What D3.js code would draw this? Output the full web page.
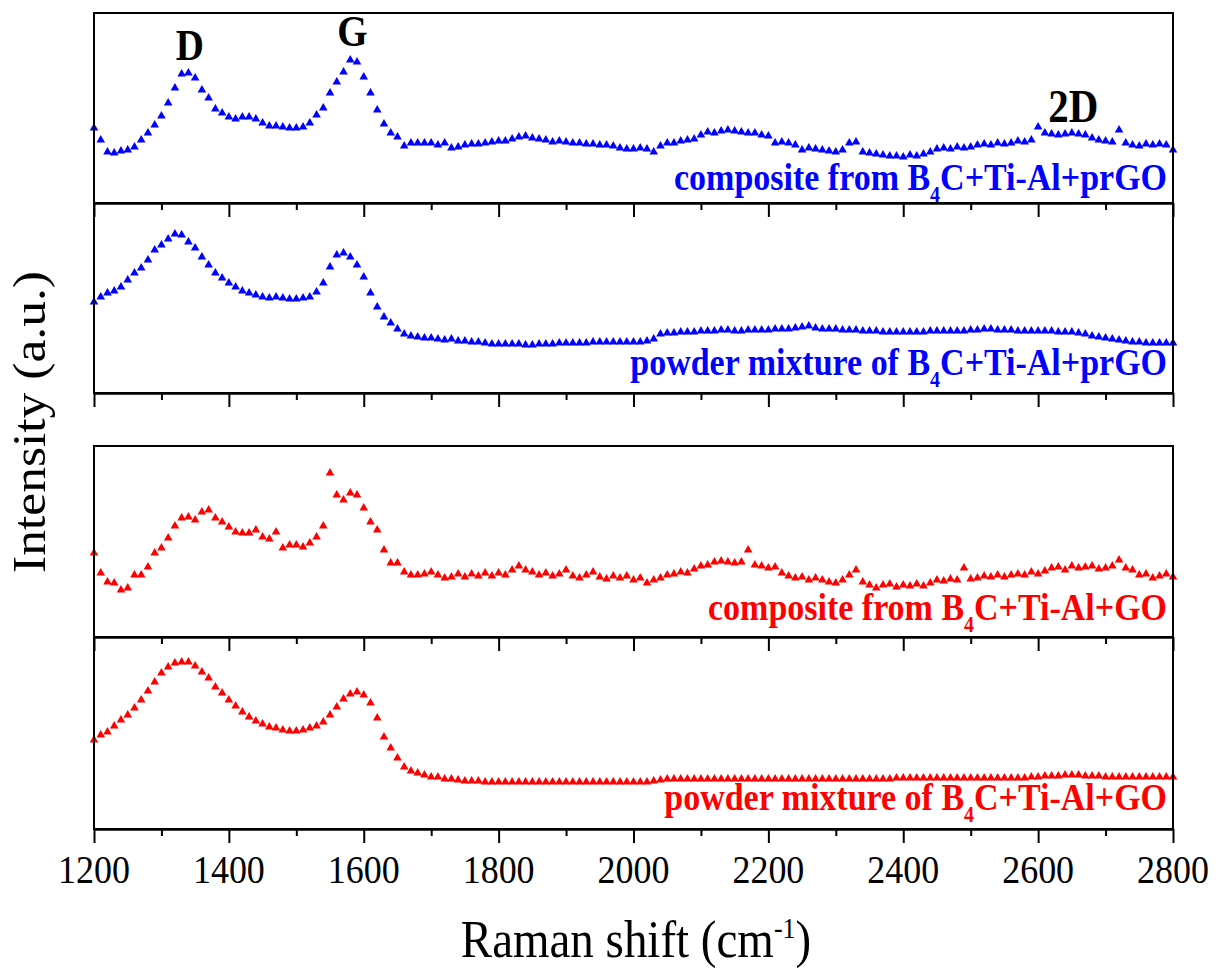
<!DOCTYPE html>
<html>
<head>
<meta charset="utf-8">
<script src="https://cdn.jsdelivr.net/npm/d3@7"></script>
<style>
  html, body { margin: 0; padding: 0; background: #fff; }
  svg { display: block; }
  text { font-family: "Liberation Serif", "Times New Roman", serif; }
</style>
</head>
<body>
<svg id="chart" width="1219" height="973"></svg>
<script>
// ---------------- DATA ----------------
const ramanShift = [
  1200,1210,1220,1230,1240,1250,1260,1270,1280,1290,
  1300,1310,1320,1330,1340,1350,1360,1370,1380,1390,
  1400,1410,1420,1430,1440,1450,1460,1470,1480,1490,
  1500,1510,1520,1530,1540,1550,1560,1570,1580,1590,
  1600,1610,1620,1630,1640,1650,1660,1670,1680,1690,
  1700,1710,1720,1730,1740,1750,1760,1770,1780,1790,
  1800,1810,1820,1830,1840,1850,1860,1870,1880,1890,
  1900,1910,1920,1930,1940,1950,1960,1970,1980,1990,
  2000,2010,2020,2030,2040,2050,2060,2070,2080,2090,
  2100,2110,2120,2130,2140,2150,2160,2170,2180,2190,
  2200,2210,2220,2230,2240,2250,2260,2270,2280,2290,
  2300,2310,2320,2330,2340,2350,2360,2370,2380,2390,
  2400,2410,2420,2430,2440,2450,2460,2470,2480,2490,
  2500,2510,2520,2530,2540,2550,2560,2570,2580,2590,
  2600,2610,2620,2630,2640,2650,2660,2670,2680,2690,
  2700,2710,2720,2730,2740,2750,2760,2770,2780,2790,
  2800
];

// intensity (a.u.), each spectrum offset within its own panel
const compositePrGO = [
  75,63,51,50,52,53,56,63,70,78,
  87,100,115,129,130,125,113,105,94,90,
  86,84,86,86,84,80,77,77,76,75,
  75,76,80,88,95,110,121,131,143,141,
  126,110,93,79,70,66,57,60,60,60,
  60,58,60,55,56,58,59,59,60,61,
  62,62,64,66,67,65,64,63,61,62,
  61,60,60,59,59,58,58,57,55,54,
  54,55,54,51,57,60,60,62,63,64,
  68,71,70,72,73,72,71,70,70,68,
  67,60,61,60,58,53,55,54,53,52,
  51,53,60,61,51,50,49,48,47,47,
  46,48,47,49,51,54,55,54,56,55,
  56,58,59,58,60,59,60,62,61,63,
  76,70,69,68,69,70,69,68,65,63,
  62,61,73,60,58,57,59,58,59,58,
  53
];
const powderPrGO = [
  91,96,100,102,106,113,120,125,133,143,
  148,154,159,158,151,145,136,128,120,115,
  110,106,102,100,98,96,95,96,95,94,
  94,95,96,101,110,126,138,140,136,128,
  116,100,86,76,70,64,59,57,56,55,
  55,54,53,54,52,52,51,51,50,49,
  49,49,49,49,48,48,49,49,49,50,
  50,50,50,50,51,51,51,51,51,51,
  51,51,52,54,59,60,60,61,61,61,
  62,62,62,63,63,62,62,63,63,63,
  63,64,64,64,65,66,67,65,64,64,
  64,63,63,63,62,62,62,61,61,61,
  61,61,61,61,62,62,62,62,62,62,
  63,63,64,64,63,63,63,62,62,62,
  62,62,62,61,61,61,60,59,57,56,
  55,54,53,52,51,51,50,50,50,50,
  50
];
const compositeGO = [
  84,64,55,54,47,49,62,62,70,84,
  89,99,111,119,120,117,125,127,119,115,
  110,105,104,104,107,100,98,105,89,92,
  92,90,94,100,111,164,142,137,144,142,
  129,115,107,87,74,74,65,62,62,63,
  65,62,59,60,63,60,63,61,64,61,
  64,62,67,71,67,65,62,64,61,63,
  67,61,59,62,65,60,58,61,59,61,
  57,59,54,57,59,62,63,65,64,68,
  71,72,75,76,75,74,75,87,72,71,
  69,70,64,61,59,60,57,59,57,55,
  54,57,62,67,55,52,49,52,53,50,
  52,51,53,51,54,57,56,58,57,69,
  58,59,61,60,62,60,62,63,62,65,
  63,66,69,70,67,71,69,70,71,68,
  69,71,77,69,67,62,63,59,61,63,
  60
];
const powderGO = [
  89,94,97,103,109,114,121,129,138,147,
  156,162,166,167,167,163,157,151,142,136,
  129,123,117,112,108,105,102,101,99,98,
  98,99,101,103,107,114,122,130,135,137,
  134,126,111,92,81,71,62,58,56,54,
  52,52,50,50,49,48,48,48,47,47,
  47,47,47,47,47,47,47,47,47,47,
  47,47,47,47,47,47,47,47,47,47,
  47,47,47,48,49,50,50,50,50,50,
  50,50,50,50,50,50,50,50,50,50,
  50,50,50,50,50,50,50,50,50,50,
  50,50,50,50,50,50,50,50,50,51,
  51,51,51,51,51,51,51,51,51,51,
  51,51,51,51,51,51,51,51,51,52,
  52,53,53,53,54,54,54,53,53,53,
  52,52,52,52,52,52,52,52,52,52,
  52
];

const seriesLabelPre  = ["composite from B", "powder mixture of B", "composite from B", "powder mixture of B"];
const seriesLabelPost = ["C+Ti-Al+prGO", "C+Ti-Al+prGO", "C+Ti-Al+GO", "C+Ti-Al+GO"];
const seriesColors = ["#0000ff", "#0000ff", "#ff0000", "#ff0000"];
const majorTicks = [1200,1400,1600,1800,2000,2200,2400,2600,2800];
const minorTicks = [1300,1500,1700,1900,2100,2300,2500,2700];
const peakLabels = ["D", "G", "2D"];
const peakPositions = [1342, 1583, 2652];

// ---------------- LAYOUT ----------------
const svg = d3.select("#chart");
svg.append("rect").attr("width", 1219).attr("height", 973).attr("fill", "#fff");

const X0 = 94, X1 = 1173;
const SY = 1.12; // vertical stretch of glyphs in the reference
const panels = [
  {top: 13,  bottom: 203, data: compositePrGO, labelY: 190},
  {top: 203, bottom: 393, data: powderPrGO,    labelY: 375},
  {top: 446, bottom: 637, data: compositeGO,   labelY: 620},
  {top: 637, bottom: 829, data: powderGO,      labelY: 810}
];

const x = d3.scaleLinear().domain([1200, 2800]).range([X0, X1]);
const tri = d3.symbol().type(d3.symbolTriangle).size(32);

function stretched(parent, tx, ty, extra) {
  return parent.append("g").attr("transform", `translate(${tx},${ty}) scale(1,${SY})` + (extra || ""));
}

panels.forEach((p, i) => {
  const y = d3.scaleLinear().domain([0, 190]).range([p.bottom, p.bottom - 190]);
  const g = svg.append("g");

  // markers
  g.append("g").selectAll("path")
    .data(ramanShift.map((w, k) => [w, p.data[k]]))
    .join("path")
    .attr("d", tri)
    .attr("transform", d => `translate(${x(d[0])},${y(d[1])})`)
    .attr("fill", seriesColors[i]);

  // frame
  g.append("rect")
    .attr("x", X0).attr("y", p.top)
    .attr("width", X1 - X0).attr("height", p.bottom - p.top)
    .attr("fill", "none").attr("stroke", "#000").attr("stroke-width", 2);

  // bottom axis: major + minor ticks, outward
  const axMaj = d3.axisBottom(x).tickValues(majorTicks).tickSize(14).tickSizeOuter(0).tickFormat("");
  const axMin = d3.axisBottom(x).tickValues(minorTicks).tickSize(7).tickSizeOuter(0).tickFormat("");
  [axMaj, axMin].forEach(ax => {
    const a = g.append("g").attr("transform", `translate(0,${p.bottom})`).call(ax);
    a.select(".domain").attr("stroke-width", 2);
    a.selectAll(".tick line").attr("stroke-width", 2);
  });

  // series label
  const lt = stretched(g, 1167, p.labelY).append("text")
    .attr("text-anchor", "end")
    .attr("font-size", 34).attr("font-weight", "bold")
    .attr("fill", seriesColors[i]);
  lt.append("tspan").text(seriesLabelPre[i]);
  lt.append("tspan").attr("font-size", 20).attr("dy", 11).text("4");
  lt.append("tspan").attr("dy", -11).text(seriesLabelPost[i]);
});

// tick labels on the bottom panel
majorTicks.forEach(t => {
  stretched(svg, x(t), 883).append("text")
    .attr("text-anchor", "middle").attr("font-size", 36).attr("fill", "#000")
    .text(t);
});

// peak labels (top panel)
const peakBase = [60, 46, 122];
const peakSize = [39, 39, 41];
peakLabels.forEach((lab, k) => {
  stretched(svg, x(peakPositions[k]), peakBase[k]).append("text")
    .attr("text-anchor", "middle").attr("font-size", peakSize[k]).attr("font-weight", "bold")
    .attr("fill", "#000").text(lab);
});

// x axis title
const xt = stretched(svg, 636, 957).append("text")
  .attr("text-anchor", "middle").attr("font-size", 47).attr("fill", "#000");
xt.append("tspan").text("Raman shift (cm");
xt.append("tspan").attr("font-size", 26).attr("dy", -17).text("-1");
xt.append("tspan").attr("dy", 17).text(")");

// y axis title
svg.append("g").attr("transform", `translate(45,422) scale(1,${SY}) rotate(-90)`)
  .append("text").attr("text-anchor", "middle").attr("font-size", 46).attr("fill", "#000")
  .text("Intensity (a.u.)");
</script>
</body>
</html>
